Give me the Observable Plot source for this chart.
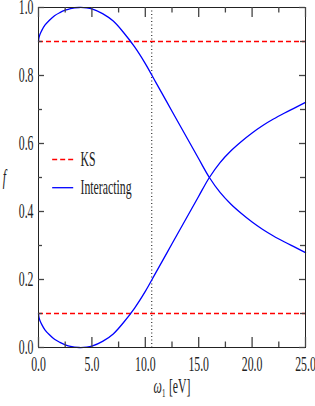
<!DOCTYPE html>
<html>
<head>
<meta charset="utf-8">
<script src="https://cdn.jsdelivr.net/npm/d3@7"></script>
<script src="https://cdn.jsdelivr.net/npm/@observablehq/plot@0.6"></script>
<style>
  html, body { margin: 0; padding: 0; background: white; }
</style>
</head>
<body>
<div id="chart"></div>
<script>
// omega_1 in eV
const omega = [0, 0.05, 0.15, 0.3, 0.6, 1, 1.5, 2, 2.5, 3, 3.8, 4.5, 5, 6, 7, 8, 9, 10, 11, 12, 13, 14, 15, 16, 17, 18, 19, 20, 21, 22, 23, 24, 25];
const interactingUpper = [0.9, 0.912, 0.922, 0.932, 0.948, 0.962, 0.976, 0.985, 0.992, 0.997, 1.0, 0.999, 0.996, 0.982, 0.96, 0.925, 0.884, 0.835, 0.779, 0.723, 0.667, 0.611, 0.555, 0.5, 0.456, 0.422, 0.394, 0.369, 0.347, 0.328, 0.311, 0.295, 0.279];
const interactingLower = [0.1, 0.088, 0.078, 0.068, 0.052, 0.038, 0.024, 0.015, 0.008, 0.003, 0.0, 0.001, 0.004, 0.018, 0.04, 0.075, 0.116, 0.165, 0.221, 0.277, 0.333, 0.389, 0.445, 0.5, 0.544, 0.578, 0.606, 0.631, 0.653, 0.672, 0.689, 0.705, 0.721];
const ksLevels = [0.1, 0.9];
const resonance = [10.6];
const xMajor = [0, 5, 10, 15, 20, 25];
const xMinor = [2.5, 7.5, 12.5, 17.5, 22.5];
const yMajor = [0, 0.2, 0.4, 0.6, 0.8, 1.0];
const yMinor = [0.1, 0.3, 0.5, 0.7, 0.9];
const legendLabels = ["KS", "Interacting"];

const rows = [];
omega.forEach((w, i) => {
  rows.push({x: w, f: interactingUpper[i], s: "upper"});
  rows.push({x: w, f: interactingLower[i], s: "lower"});
});

const W = 315, H = 406, mL = 38, mR = 10, mT = 7, mB = 59;
const innerW = W - mL - mR, innerH = H - mT - mB;
const xDom = [0, 25], yDom = [0, 1];
// tick lengths in pixels converted to data units
const xt = px => px * (yDom[1] - yDom[0]) / innerH;
const yt = px => px * (xDom[1] - xDom[0]) / innerW;
const tickStroke = "#444";

const xTick = (vals, len, atTop) => Plot.ruleX(vals, {
  x: d => d,
  y1: atTop ? yDom[1] - xt(len) : yDom[0],
  y2: atTop ? yDom[1] : yDom[0] + xt(len),
  stroke: tickStroke, strokeWidth: 1.3
});
const yTick = (vals, len, atRight) => Plot.ruleY(vals, {
  y: d => d,
  x1: atRight ? xDom[1] - yt(len) : xDom[0],
  x2: atRight ? xDom[1] : xDom[0] + yt(len),
  stroke: tickStroke, strokeWidth: 1.3
});

const chart = Plot.plot({
  width: W,
  height: H,
  marginLeft: mL,
  marginRight: mR,
  marginTop: mT,
  marginBottom: mB,
  style: {fontFamily: "'Liberation Serif', serif", fontSize: "20px", color: "#222", background: "white"},
  x: {domain: xDom},
  y: {domain: yDom},
  marks: [
    Plot.ruleY(ksLevels, {y: d => d, stroke: "#ff0000", strokeWidth: 1.5, strokeDasharray: "5,3"}),
    Plot.ruleX(resonance, {x: d => d, stroke: "#333", strokeWidth: 1.2, strokeDasharray: "1,2.5"}),
    Plot.line(rows, {x: "x", y: "f", z: "s", stroke: "#0000ff", strokeWidth: 1.3, curve: "catmull-rom"}),
    // tick labels
    Plot.axisX(xMajor, {anchor: "bottom", tickSize: 0, tickPadding: 9, tickFormat: d => d.toFixed(1), label: null}),
    Plot.axisY(yMajor, {anchor: "left", tickSize: 0, tickPadding: 5, tickFormat: d => d.toFixed(1), label: null}),
    Plot.frame({stroke: "#222", strokeWidth: 1}),
    // inward ticks
    xTick(xMajor, 10, false),
    xTick(xMinor, 5.5, false),
    xTick(xMajor, 10, true),
    xTick(xMinor, 5.5, true),
    yTick(yMajor, 6, false),
    yTick(yMinor, 4, false),
    yTick(yMajor, 6, true),
    yTick(yMinor, 5, true),
    // axis labels
    Plot.text(["f"], {frameAnchor: "left", dx: -34, text: d => d, fontStyle: "italic", textAnchor: "middle"}),
    Plot.text(["ω₁ [eV]"], {frameAnchor: "bottom", dy: 45, text: d => d, textAnchor: "middle"}),
    // legend
    Plot.link([0], {x1: 1.28, x2: 3.25, y1: 0.553, y2: 0.553, stroke: "#ff0000", strokeWidth: 1.5, strokeDasharray: "5,3"}),
    Plot.link([0], {x1: 1.28, x2: 3.25, y1: 0.47, y2: 0.47, stroke: "#0000ff", strokeWidth: 1.3}),
    Plot.text([legendLabels[0]], {x: 3.93, y: 0.553, text: d => d, textAnchor: "start"}),
    Plot.text([legendLabels[1]], {x: 3.93, y: 0.47, text: d => d, textAnchor: "start"})
  ]
});

document.getElementById("chart").appendChild(chart);

// condense text horizontally to mimic the narrow LaTeX rendering
const sx = 0.59;
chart.querySelectorAll("text").forEach(t => {
  const tr = t.getAttribute("transform") || "";
  const x = parseFloat(t.getAttribute("x")) || 0;
  t.setAttribute("transform", `${tr} translate(${x},0) scale(${sx},1) translate(${-x},0)`);
});
// italic omega
chart.querySelectorAll("text").forEach(t => {
  if (t.textContent === "ω₁ [eV]") {
    t.textContent = "";
    const ns = "http://www.w3.org/2000/svg";
    const a = document.createElementNS(ns, "tspan"); a.setAttribute("font-style", "italic"); a.textContent = "ω";
    const b = document.createElementNS(ns, "tspan"); b.textContent = "₁ [eV]";
    t.appendChild(a); t.appendChild(b);
  }
});
</script>
</body>
</html>
